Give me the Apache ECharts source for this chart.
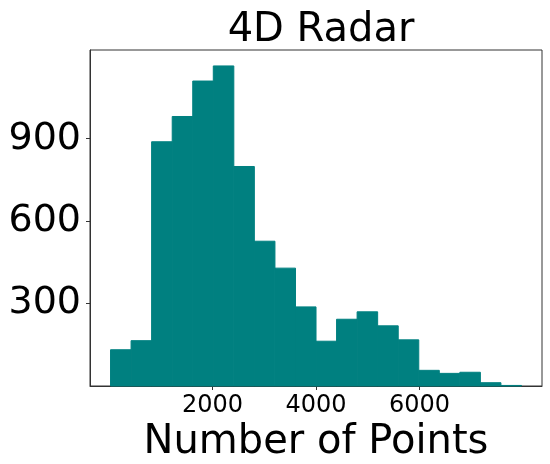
<!DOCTYPE html>
<html>
<head>
<meta charset="utf-8">
<script src="https://cdn.jsdelivr.net/npm/echarts@6/dist/echarts.min.js"></script>
<style>html,body{margin:0;padding:0;background:#fff}#c{width:550px;height:464px}</style>
</head>
<body>
<div id="c"></div>
<script>
// Histogram bin edges (Number of Points) and counts per bin
var binEdges = [28, 425, 822, 1220, 1617, 2014, 2411, 2808, 3206, 3603, 4000, 4397, 4794, 5191, 5589, 5986, 6383, 6780, 7177, 7574, 7971];
var counts = [132, 165, 889, 981, 1110, 1165, 799, 527, 429, 288, 163, 243, 270, 219, 168, 57, 46, 50, 12, 2];
var xTicks = [2000, 4000, 6000];
var yTicks = [300, 600, 900];
var titleText = '4D Radar';
var xName = 'Number of Points';

var data = counts.map(function (c, i) { return [binEdges[i], binEdges[i + 1], c]; });
var FONT = 'DejaVu Sans';
var chart = echarts.init(document.getElementById('c'), null, {renderer: 'canvas'});
chart.setOption({
  animation: false,
  title: {
    text: titleText, left: 316, top: 6, textAlign: 'center',
    textStyle: {fontFamily: FONT, fontSize: 40, fontWeight: 'normal', color: '#000'}
  },
  grid: {left: 90, right: 8, top: 50, bottom: 78, containLabel: false, outerBoundsMode: 'none',
         show: true, borderColor: '#333', borderWidth: 1},
  xAxis: {
    type: 'value', min: -369, max: 8368,
    name: xName, nameLocation: 'middle', nameGap: 34,
    nameTextStyle: {fontFamily: FONT, fontSize: 40, color: '#000'},
    axisLine: {show: true, onZero: false, lineStyle: {color: '#333'}},
    axisTick: {show: true, length: 4, customValues: xTicks, lineStyle: {color: '#333'}},
    axisLabel: {customValues: xTicks, fontFamily: FONT, fontSize: 24, color: '#000', margin: 8,
                formatter: function (v) { return String(v); }},
    splitLine: {show: false}
  },
  yAxis: {
    type: 'value', min: 0, max: 1223,
    axisLine: {show: true, onZero: false, lineStyle: {color: '#333'}},
    axisTick: {show: true, length: 4, customValues: yTicks, lineStyle: {color: '#333'}},
    axisLabel: {customValues: yTicks, fontFamily: FONT, fontSize: 38, color: '#000', margin: 9,
                formatter: function (v) { return String(v); }},
    splitLine: {show: false}
  },
  series: [{
    type: 'custom',
    data: data,
    encode: {x: [0, 1], y: 2},
    renderItem: function (params, api) {
      var p0 = api.coord([api.value(0), api.value(2)]);
      var p1 = api.coord([api.value(1), 0]);
      return {
        type: 'rect',
        shape: {x: p0[0], y: p0[1], width: p1[0] - p0[0], height: p1[1] - p0[1]},
        style: {fill: '#008080', stroke: '#008080', lineWidth: 1}
      };
    }
  }]
});
</script>
</body>
</html>
